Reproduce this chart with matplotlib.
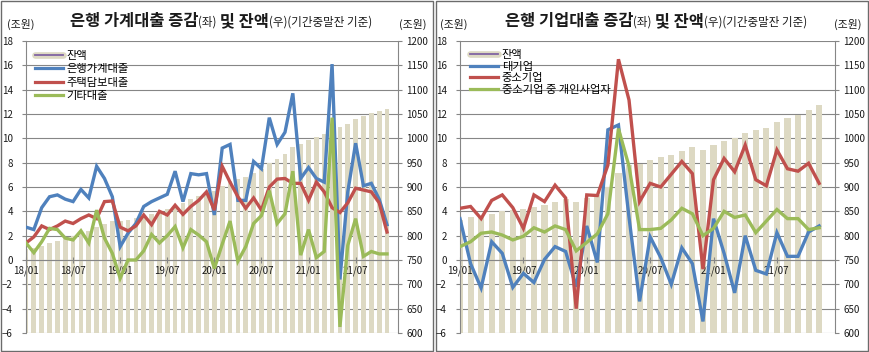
import matplotlib
matplotlib.use('Agg')
import matplotlib.pyplot as plt
from matplotlib.lines import Line2D
from matplotlib.patches import Rectangle
import numpy as np

plt.rcParams['font.family'] = ['Noto Sans CJK KR', 'DejaVu Sans']

W, H, DPI = 869, 352, 100

# ---------------- left panel: household loans (18/01 ~ 21/11) ----------------
hh_ticklabels = ['18/01', '18/07', '19/01', '19/07', '20/01', '20/07', '21/01', '21/07']
hh_total = [2.7, 2.5, 4.3, 5.2, 5.35, 5.0, 4.8, 5.8, 5.1, 7.7, 6.7, 5.2, 1.1, 2.2, 3.0, 4.4,
            4.8, 5.1, 5.4, 7.3, 4.8, 7.1, 7.0, 7.1, 3.7, 9.2, 9.5, 4.9, 4.9, 8.1, 7.5, 11.7,
            9.5, 10.5, 13.7, 6.7, 7.6, 6.7, 6.4, 16.1, -1.6, 5.6, 9.6, 6.1, 6.3, 5.0, 2.9]
hh_mortgage = [1.4, 1.9, 2.8, 2.5, 2.8, 3.2, 3.0, 3.4, 3.7, 3.4, 4.8, 4.85, 2.7, 2.4, 2.8, 3.7,
               2.9, 4.0, 3.7, 4.5, 3.75, 4.4, 4.9, 5.6, 4.1, 7.7, 6.4, 5.2, 4.25, 5.1, 4.1, 6.0,
               6.65, 6.7, 6.3, 6.3, 4.9, 6.4, 5.6, 4.3, 3.9, 4.7, 5.9, 5.75, 5.6, 4.7, 2.3]
hh_other = [1.4, 0.6, 1.5, 2.6, 2.5, 1.8, 1.65, 2.4, 1.4, 4.1, 1.8, 0.55, -1.5, 0.0, 0.0, 0.75,
            2.1, 1.4, 2.0, 2.75, 1.0, 2.5, 2.05, 1.5, -0.7, 1.3, 3.2, -0.1, 1.1, 3.0, 3.65, 5.7,
            3.0, 3.8, 7.3, 0.4, 2.5, 0.2, 0.7, 11.7, -5.5, 1.2, 3.4, 0.3, 0.7, 0.5, 0.5]
hh_balance = [772.0, 774.5, 778.8, 784.0, 789.4, 794.4, 799.2, 805.0, 810.1, 817.8, 824.5, 829.7,
              830.8, 833.0, 836.0, 840.4, 845.2, 850.3, 855.7, 863.0, 867.8, 874.9, 881.9, 889.0,
              892.7, 901.9, 911.4, 916.3, 921.2, 929.3, 936.8, 948.5, 958.0, 968.5, 982.2, 988.9,
              996.5, 1003.2, 1009.6, 1025.7, 1024.1, 1029.7, 1039.3, 1045.4, 1051.7, 1056.7, 1059.6]

# ---------------- right panel: corporate loans (19/01 ~ 21/11) ----------------
co_ticklabels = ['19/01', '19/07', '20/01', '20/07', '21/01', '21/07']
co_large = [3.4, -0.3, -2.3, 1.5, 0.55, -2.25, -1.1, -1.85, 0.05, 1.1, 0.7, -2.2, 2.8, -0.2,
            10.7, 11.1, 3.5, -3.4, 1.9, 0.2, -2.0, 1.0, -0.3, -5.05, 3.4, 0.55, -2.7, 2.0,
            -0.85, -1.15, 2.25, 0.3, 0.3, 2.3, 2.8]
co_sme = [4.25, 4.4, 3.4, 4.9, 5.35, 4.3, 2.6, 5.35, 4.8, 6.15, 5.1, -4.0, 5.35, 5.3, 7.8,
          16.5, 13.15, 4.8, 6.3, 6.0, 7.05, 8.1, 7.1, -0.75, 6.6, 8.35, 7.25, 9.45, 6.6, 6.1,
          9.05, 7.5, 7.3, 7.95, 6.3]
co_sole = [1.1, 1.5, 2.2, 2.3, 2.05, 1.65, 1.95, 2.65, 2.3, 2.8, 2.5, 0.75, 1.45, 2.15, 3.8,
           10.8, 7.7, 2.5, 2.5, 2.6, 3.3, 4.25, 3.8, 2.0, 2.6, 4.0, 3.5, 3.7, 2.25, 3.2, 4.15,
           3.4, 3.4, 2.5, 2.65]
co_balance = [833, 838, 838, 845, 851, 853, 854, 858, 862, 870, 875, 870, 877, 883, 901, 929,
              946, 947, 955, 961, 966, 975, 982, 976, 986, 995, 1000, 1011, 1017, 1022, 1033,
              1041, 1048, 1059, 1068]

BAR = '#DDD9C3'
BLUE = '#4F81BD'
RED = '#C0504D'
GREEN = '#9BBB59'
PURPLE = '#8064A2'
GRID = '#868686'
TXT = '#1a1a1a'

fig = plt.figure(figsize=(W / DPI, H / DPI), dpi=DPI)


def px_box(x0, y_top, x1, y_bot):
    return [x0 / W, 1 - y_bot / H, (x1 - x0) / W, (y_bot - y_top) / H]


def mixed_title(pieces, cx, cy):
    renderer = fig.canvas.get_renderer()
    texts = []
    widths = []
    for s, size, weight in pieces:
        t = fig.text(0, 1 - cy / H, s, fontsize=size, fontweight=weight, va='baseline',
                     ha='left', color=TXT)
        texts.append(t)
        widths.append(t.get_window_extent(renderer).width)
    total = sum(widths)
    x = cx - total / 2
    for t, w in zip(texts, widths):
        t.set_x(x / W)
        x += w


def panel(box, n, xmax, lines, balance, ticklabels, labels, bar_w, frame, title_pieces,
          title_cx, unit_l, unit_r, legend_anchor, legend_spacing):
    # frame around chart
    fig.add_artist(Rectangle((frame[0] / W, 1 - frame[3] / H), (frame[2] - frame[0]) / W,
                             (frame[3] - frame[1]) / H, transform=fig.transFigure,
                             fill=False, ec='#6b6b6b', lw=1.0))
    ax = fig.add_axes(box)
    ax2 = ax.twinx()
    ax.set_zorder(ax2.get_zorder() + 1)
    ax.patch.set_visible(False)
    x = np.arange(n)

    # bars on right axis
    ax2.bar(x, balance, width=bar_w, color=BAR, zorder=2, linewidth=0)
    ax2.set_ylim(600, 1200)
    ax2.set_yticks(np.arange(600, 1201, 50))
    ax2.set_axisbelow(True)
    ax2.yaxis.grid(True, color=GRID, lw=0.8)
    ax2.tick_params(axis='y', direction='out', length=3, width=0.8, color=GRID,
                    labelsize=7, pad=3, labelcolor=TXT)
    for s in ['top', 'left', 'bottom']:
        ax2.spines[s].set_visible(False)
    ax2.spines['right'].set_color(GRID)
    ax2.spines['right'].set_linewidth(0.8)

    # lines on left axis
    for vals, col in lines:
        ax.plot(x, vals, color=col, lw=2.4, solid_joinstyle='miter', zorder=3)
    ax.set_ylim(-6, 18)
    ax.set_yticks(np.arange(-6, 19, 2))
    ax.set_xlim(0, xmax)
    ax2.set_xlim(0, xmax)
    ax.set_xticks(np.arange(0, n, 6))
    ax.set_xticklabels(ticklabels)
    ax.spines['bottom'].set_position(('data', 0))
    ax.spines['bottom'].set_color(GRID)
    ax.spines['bottom'].set_linewidth(0.8)
    ax.spines['left'].set_color(GRID)
    ax.spines['left'].set_linewidth(0.8)
    ax.spines['top'].set_visible(False)
    ax.spines['right'].set_visible(False)
    ax.tick_params(axis='y', direction='out', length=3, width=0.8, color=GRID,
                   labelsize=7, pad=6.5, labelcolor=TXT)
    ax.tick_params(axis='x', direction='inout', length=4, width=0.8, color=GRID,
                   labelsize=7, pad=2, labelcolor=TXT)

    # legend
    h0 = (Line2D([], [], color=BAR, lw=4.8, solid_capstyle='round'),
          Line2D([], [], color=PURPLE, lw=1.3))
    handles = [h0] + [Line2D([], [], color=c, lw=2.3) for _, c in lines]
    ax.legend(handles, labels, loc='upper left', bbox_to_anchor=legend_anchor,
              frameon=False, fontsize=8.1, labelspacing=legend_spacing, handlelength=2.5,
              handletextpad=0.3, borderpad=0, borderaxespad=0)

    mixed_title(title_pieces, title_cx, 26)
    fig.text(unit_l / W, 1 - 24 / H, '(조원)', fontsize=7.8, ha='center', va='center', color=TXT)
    fig.text(unit_r / W, 1 - 24 / H, '(조원)', fontsize=7.8, ha='center', va='center', color=TXT)
    return ax, ax2


panel(px_box(26, 41, 398, 333), len(hh_total), 47.4,
      [(hh_total, BLUE), (hh_mortgage, RED), (hh_other, GREEN)],
      hh_balance, hh_ticklabels, ['잔액', '은행가계대출', '주택담보대출', '기타대출'], 0.6,
      (1, 1, 433, 351),
      [('은행 가계대출 증감', 11.8, 'bold'), ('(좌)', 8.3, 'normal'), (' 및 잔액', 11.8, 'bold'),
       ('(우)(기간중말잔 기준)', 8.3, 'normal')], 221, 21, 413, (0.024, 0.966), 0.3)

panel(px_box(460, 41, 835, 333), len(co_large), 35.5,
      [(co_large, BLUE), (co_sme, RED), (co_sole, GREEN)],
      co_balance, co_ticklabels, ['잔액', '대기업', '중소기업', '중소기업 중 개인사업자'], 0.58,
      (436, 1, 868, 351),
      [('은행 기업대출 증감', 11.8, 'bold'), ('(좌)', 8.3, 'normal'), (' 및 잔액', 11.8, 'bold'),
       ('(우)(기간중말잔 기준)', 8.3, 'normal')], 656, 454, 848, (0.027, 0.97), 0.16)

fig.savefig('out.png', dpi=DPI)
